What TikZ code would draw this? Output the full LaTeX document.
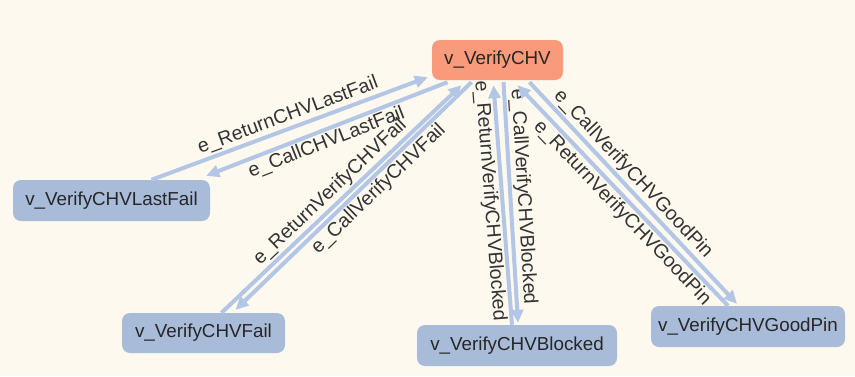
\documentclass[tikz,border=0pt]{standalone}
\usepackage{fontspec}
\setmainfont{Liberation Sans}
\usetikzlibrary{arrows.meta,calc}
\definecolor{bgcream}{HTML}{FDF9EF}
\definecolor{stateblue}{HTML}{A8BCDA}
\definecolor{startorange}{HTML}{F99A7B}
\definecolor{edgeblue}{HTML}{B3C6E5}
\definecolor{labelgray}{HTML}{333333}
\definecolor{nodetext}{HTML}{262626}

\begin{document}
\begin{tikzpicture}[x=1pt,y=-1pt,
  state/.style={rectangle, rounded corners=8pt, fill=stateblue, text=nodetext,
    font=\fontsize{18.8}{22}\selectfont, inner sep=0pt, minimum height=41pt},
  trans/.style={draw=edgeblue, line width=4pt, -{Triangle[length=13pt,width=12pt]}},
  lbl/.style={sloped, font=\fontsize{19.6}{23}\selectfont, text=labelgray, inner sep=1.5pt}
]
% canvas
\fill[bgcream] (0,0) rectangle (855,376);
\useasboundingbox (0,0) rectangle (855,376);

% states
\node[state, fill=startorange, minimum width=131pt, minimum height=40pt] (top) at (497.5,60) {v\_VerifyCHV};
\node[state, minimum width=197pt] (lf) at (111.5,200.5) {v\_VerifyCHVLastFail};
\node[state, minimum width=163pt, minimum height=40pt] (fail) at (203.5,333) {v\_VerifyCHVFail};
\node[state, minimum width=200pt] (blocked) at (517,345.5) {v\_VerifyCHVBlocked};
\node[state, minimum width=194pt] (goodpin) at (748,326.5) {v\_VerifyCHVGoodPin};

% transitions
\draw[trans] ($(lf.north)+(40,0)$) to node[lbl, above, pos=0.51] {e\_ReturnCHVLastFail} ($(top.south west)+(-4,-3)$);
\draw[trans] ($(top.south)+(-50,2)$) to node[lbl, below, pos=0.52] {e\_CallCHVLastFail} ($(lf.north east)+(-4,-4)$);
\draw[trans] ($(fail.north)+(18,0)$) to node[lbl, above, pos=0.49] {e\_ReturnVerifyCHVFail} ($(top.south)+(-36,5)$);
\draw[trans] ($(top.south)+(-26,2)$) to node[lbl, below, pos=0.43] {e\_CallVerifyCHVFail} ($(fail.north)+(32,-3)$);
\draw[trans] ($(blocked.north)+(-5,0)$) to node[lbl, below, pos=0.52] {e\_ReturnVerifyCHVBlocked} ($(top.south)+(-4,5)$);
\draw[trans] ($(top.south)+(6,2)$) to node[lbl, above, pos=0.48] {e\_CallVerifyCHVBlocked} ($(blocked.north)+(1,-2)$);
\draw[trans] ($(goodpin.north)+(-20,0)$) to node[lbl, below, pos=0.46] {e\_ReturnVerifyCHVGoodPin} ($(top.south)+(20,5)$);
\draw[trans] ($(top.south)+(32,2)$) to node[lbl, above, pos=0.455] {e\_CallVerifyCHVGoodPin} ($(goodpin.north)+(-11,-2)$);
\end{tikzpicture}
\end{document}
